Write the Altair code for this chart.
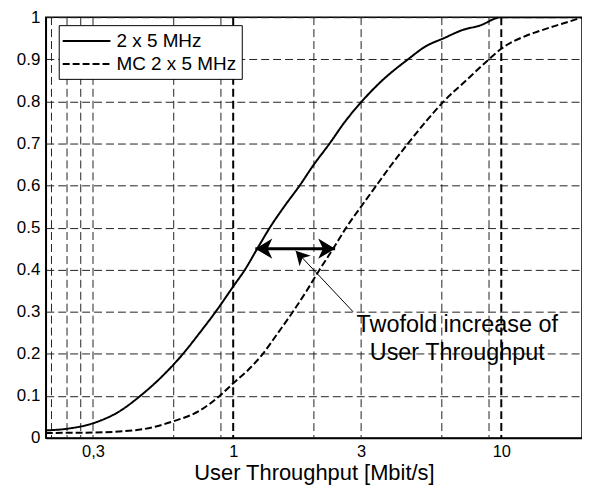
import altair as alt
import pandas as pd

SERIES = ["2 x 5 MHz", "MC 2 x 5 MHz"]

SOLID_X = [0.2, 0.24, 0.3, 0.38, 0.45, 0.55, 0.65, 0.75, 0.86, 1.0, 1.106, 1.23, 1.37,
           1.55, 1.77, 2.0, 2.29, 2.6, 3.02, 3.6, 4.49, 5.2, 6.1, 7.2, 8.3, 10, 20]
SOLID_Y = [0.018, 0.022, 0.035, 0.065, 0.10, 0.15, 0.20, 0.25, 0.30, 0.36, 0.40, 0.45, 0.50,
           0.55, 0.60, 0.65, 0.70, 0.75, 0.80, 0.85, 0.90, 0.93, 0.95, 0.97, 0.98, 1.0, 1.0]

DASHED_X = [0.2, 0.3, 0.45, 0.6, 0.75, 0.89, 1.0, 1.13, 1.29, 1.47, 1.67, 1.88, 2.1, 2.36,
            2.64, 3.0, 3.42, 3.9, 4.49, 5.2, 6.1, 7.4, 9.0, 10, 12.5, 14, 16, 18, 20]
DASHED_Y = [0.012, 0.013, 0.02, 0.04, 0.065, 0.10, 0.13, 0.16, 0.20, 0.25, 0.30, 0.35, 0.40, 0.45,
            0.50, 0.55, 0.60, 0.65, 0.70, 0.75, 0.80, 0.85, 0.90, 0.925, 0.957, 0.968, 0.98, 0.99, 1.0]

GRID_X_THIN = [0.21, 0.24, 0.27, 0.3, 0.6, 0.9, 2, 3, 6, 9]
GRID_X_BOLD = [1, 10]
X_TICKS = [0.3, 1, 3, 10]
Y_TICKS = [0, 0.1, 0.2, 0.3, 0.4, 0.5, 0.6, 0.7, 0.8, 0.9, 1]

ARROW_X = [1.21, 2.4]
ARROW_Y = [0.45, 0.45]
ARROW_ANGLE = [180, 0]
LEADER_X = [1.71, 2.8]
LEADER_Y = [0.445, 0.30]
LEADER_ANGLE = 227
NOTE_LINES = ["Twofold increase of", "User Throughput"]
NOTE_X = [6.85, 6.85]
NOTE_Y = [0.252, 0.186]

FONT = "Liberation Sans"

curves = pd.DataFrame({
    "x": SOLID_X + DASHED_X,
    "y": SOLID_Y + DASHED_Y,
    "series": [SERIES[0]] * len(SOLID_X) + [SERIES[1]] * len(DASHED_X),
})

xscale = alt.Scale(type="log", domain=[0.2, 20], nice=False)
yscale = alt.Scale(domain=[0, 1], nice=False)

x_axis = alt.Axis(values=X_TICKS, labelExpr="replace(format(datum.value, '~g'), '.', ',')",
                  grid=False, ticks=False, labelFontSize=16.5, labelPadding=6,
                  titleFontSize=22, titlePadding=2, title="User Throughput [Mbit/s]")
y_axis = alt.Axis(values=Y_TICKS, format="~g", grid=True, gridDash=[8, 4], gridColor="#222",
                  gridWidth=1, ticks=False, labelFontSize=17, labelPadding=6, title=None)


def X():
    return alt.X("x:Q", scale=xscale, axis=x_axis)


def Y():
    return alt.Y("y:Q", scale=yscale, axis=y_axis)


grid_thin = alt.Chart(pd.DataFrame({"x": GRID_X_THIN})).mark_rule(
    color="#222", strokeWidth=1, strokeDash=[8, 4]
).encode(x=X())

grid_bold = alt.Chart(pd.DataFrame({"x": GRID_X_BOLD})).mark_rule(
    color="black", strokeWidth=2, strokeDash=[8, 4]
).encode(x=X())

lines = alt.Chart(curves).mark_line(
    color="black", strokeWidth=2, clip=True, interpolate="monotone"
).encode(
    x=X(),
    y=Y(),
    strokeDash=alt.StrokeDash(
        "series:N",
        scale=alt.Scale(domain=SERIES, range=[[1, 0], [7, 3]]),
        legend=alt.Legend(
            title=None, orient="none", legendX=13, legendY=8,
            symbolType="M-1.2,0L3.6,0", symbolSize=400, symbolStrokeWidth=2,
            symbolStrokeColor="black", labelFont=FONT, labelFontSize=19,
            labelColor="black", labelOffset=31, padding=5, rowPadding=2,
            strokeColor="black", fillColor="white",
        ),
    ),
)

arrow_df = pd.DataFrame({"x": ARROW_X, "y": ARROW_Y, "angle": ARROW_ANGLE})
arrow_line = alt.Chart(arrow_df).mark_line(color="black", strokeWidth=3).encode(x=X(), y=Y())
arrow_heads = alt.Chart(arrow_df).mark_point(
    shape="M0,0L-1,-0.6L-0.72,0L-1,0.6Z", filled=True, color="black", size=1156, opacity=1
).encode(x=X(), y=Y(), angle=alt.Angle("angle:Q", scale=None))

leader_df = pd.DataFrame({"x": LEADER_X, "y": LEADER_Y})
leader = alt.Chart(leader_df).mark_line(color="black", strokeWidth=1).encode(x=X(), y=Y())
leader_head = alt.Chart(pd.DataFrame({"x": LEADER_X[:1], "y": LEADER_Y[:1],
                                      "angle": [LEADER_ANGLE]})).mark_point(
    shape="M0,0L-1,-0.55L-0.72,0L-1,0.55Z", filled=True, color="black", size=784, opacity=1
).encode(x=X(), y=Y(), angle=alt.Angle("angle:Q", scale=None))

note = alt.Chart(pd.DataFrame({"x": NOTE_X, "y": NOTE_Y, "t": NOTE_LINES})).mark_text(
    align="center", baseline="alphabetic", fontSize=23.5, font=FONT, color="black"
).encode(x=X(), y=Y(), text="t:N")

chart = alt.layer(
    grid_thin, grid_bold, lines, arrow_line, arrow_heads, leader, leader_head, note
).properties(
    width=539, height=423,
    autosize=alt.AutoSizeParams(type="none"),
    padding={"left": 38, "top": 8, "right": 0, "bottom": 46},
    background="white",
).configure_view(stroke="black", strokeWidth=1.5).configure_axis(
    labelFont=FONT, titleFont=FONT, labelColor="black", titleColor="black",
    domainColor="black", domainWidth=1.5, titleFontWeight="normal",
)

chart.save("out.html", embed_options={"renderer": "svg", "actions": False})
